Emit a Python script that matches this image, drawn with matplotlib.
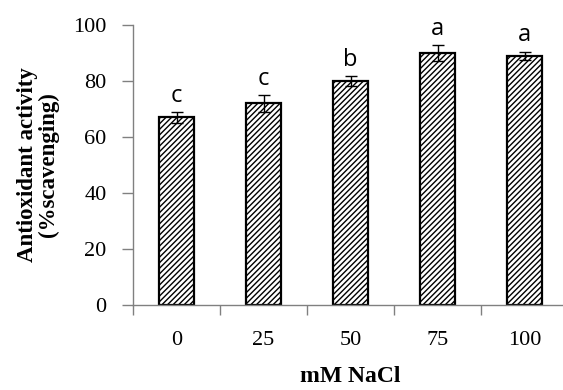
import matplotlib
matplotlib.use("Agg")
import matplotlib.pyplot as plt
import numpy as np

categories = ["0", "25", "50", "75", "100"]
values = [67, 72, 80, 90, 89]
errors = [2.0, 3.0, 1.7, 2.7, 1.5]
letters = ["c", "c", "b", "a", "a"]

plt.rcParams['hatch.linewidth'] = 1.0
plt.rcParams['hatch.color'] = 'black'

fig = plt.figure(figsize=(5.63, 3.90), dpi=100)
ax = fig.add_axes([133/563, 85/390, 435/563, 280/390])

x = np.arange(len(categories))
ax.bar(x, values, width=0.4, color='white', edgecolor='black', linewidth=1.6,
       hatch='//////', zorder=2)
ax.errorbar(x, values, yerr=errors, fmt='none', ecolor='black', elinewidth=1.0,
            capsize=4.5, capthick=1.0, zorder=3)
for xi, v, e, l in zip(x, values, errors, letters):
    ax.text(xi, v + e + 1.5, l, ha='center', va='bottom', fontsize=17,
            family='Open Sans', color='black')

ax.set_xlim(-0.5, 4.5)
ax.set_ylim(0, 100)
ax.set_yticks([0, 20, 40, 60, 80, 100])
ax.set_xticks(x)
ax.set_xticklabels(categories)
ax.set_xticks(np.arange(-0.5, 5.0, 1.0), minor=True)
ax.tick_params(axis='x', which='major', length=0, pad=19, labelsize=16)
ax.tick_params(axis='x', which='minor', length=7, color='#808080', width=1)
ax.tick_params(axis='y', length=8, color='#808080', width=1, labelsize=16, pad=11)
for lab in ax.get_xticklabels() + ax.get_yticklabels():
    lab.set_family('Liberation Serif')

for s in ['top', 'right']:
    ax.spines[s].set_visible(False)
for s in ['left', 'bottom']:
    ax.spines[s].set_color('#808080')
    ax.spines[s].set_linewidth(1)

ax.set_ylabel("Antioxidant activity\n(%scavenging)", family='Liberation Serif',
              fontweight='bold', fontsize=16.5, labelpad=10, linespacing=1.0)
ax.set_xlabel("mM NaCl", family='Liberation Serif', fontweight='bold',
              fontsize=17, labelpad=11)

fig.savefig("out.png", dpi=100)
